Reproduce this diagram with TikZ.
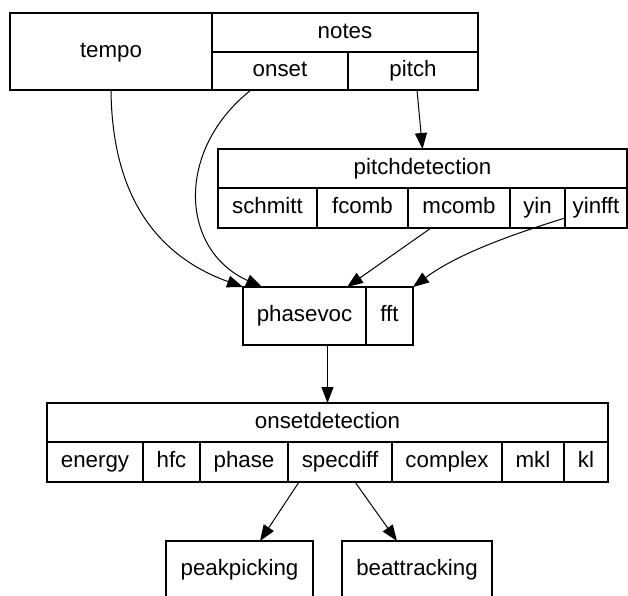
\documentclass[tikz,border=0pt]{standalone}
\usepackage{fontspec}
\setmainfont{Liberation Sans}
\usetikzlibrary{arrows.meta}
\begin{document}
\begin{tikzpicture}[x=1pt,y=-1pt,
  cell/.style={draw=black, line width=1.2pt, inner sep=0pt, outer sep=0pt, text height=15.5pt, text depth=4.5pt, font=\fontsize{22.3pt}{26pt}\selectfont},
  edge/.style={draw=black, line width=1pt, -{Triangle[length=16pt,width=12pt]}}]
\useasboundingbox (0,0) rectangle (628,595);
% top record
\node[cell, minimum width=202pt, minimum height=77pt] (tempo) at (111,51.5) {tempo};
\node[cell, minimum width=266pt, minimum height=39pt] (notes) at (345,32.5) {notes};
\node[cell, minimum width=136pt, minimum height=38pt] (onset) at (280,71) {onset};
\node[cell, minimum width=130pt, minimum height=38pt] (pitch) at (413,71) {pitch};
% pitchdetection
\node[cell, minimum width=409pt, minimum height=39pt] (pitchdetection) at (422.5,168.5) {pitchdetection};
\node[cell, minimum width=99pt, minimum height=40pt] (schmitt) at (267.5,208) {schmitt};
\node[cell, minimum width=91pt, minimum height=40pt] (fcomb) at (362.5,208) {fcomb};
\node[cell, minimum width=102pt, minimum height=40pt] (mcomb) at (459,208) {mcomb};
\node[cell, minimum width=55pt, minimum height=40pt] (yin) at (537.5,208) {yin};
\node[cell, minimum width=62pt, minimum height=40pt] (yinfft) at (596,208) {yinfft};
% phasevoc
\node[cell, minimum width=123pt, minimum height=58pt] (phasevoc) at (304.5,316) {phasevoc};
\node[cell, minimum width=47pt, minimum height=58pt] (fft) at (389.5,316) {fft};
% onsetdetection
\node[cell, minimum width=561pt, minimum height=39pt] (onsetdetection) at (327.5,422.5) {onsetdetection};
\node[cell, minimum width=96pt, minimum height=40pt] (energy) at (95,462) {energy};
\node[cell, minimum width=57pt, minimum height=40pt] (hfc) at (171.5,462) {hfc};
\node[cell, minimum width=88pt, minimum height=40pt] (phase) at (244,462) {phase};
\node[cell, minimum width=104pt, minimum height=40pt] (specdiff) at (340,462) {specdiff};
\node[cell, minimum width=110pt, minimum height=40pt] (complex) at (447,462) {complex};
\node[cell, minimum width=62pt, minimum height=40pt] (mkl) at (533,462) {mkl};
\node[cell, minimum width=44pt, minimum height=40pt] (kl) at (586,462) {kl};
% bottom
\node[cell, minimum width=147pt, minimum height=58pt] (peakpicking) at (239.5,570) {peakpicking};
\node[cell, minimum width=150pt, minimum height=58pt] (beattracking) at (417,570) {beattracking};
% edges
\draw[edge] (tempo.south) .. controls +(1,110) and +(-83,-30) .. (phasevoc.north west);
\draw[edge] ([xshift=-29pt]onset.south) .. controls +(-76,60) and +(-82,-37) .. ([xshift=-42.5pt]phasevoc.north);
\draw[edge] ([xshift=4pt]pitch.south) -- (pitchdetection.north);
\draw[edge] ([xshift=-28pt]mcomb.south) -- ([xshift=42.5pt]phasevoc.north);
\draw[edge] ([yshift=-10pt]yinfft.west) .. controls +(-45,14) and +(47,-35) .. (fft.north east);
\draw[edge] ([xshift=23pt]phasevoc.south) -- (onsetdetection.north);
\draw[edge] ([xshift=-41pt]specdiff.south) -- ([xshift=20.5pt]peakpicking.north);
\draw[edge] ([xshift=15pt]specdiff.south) -- ([xshift=-20pt]beattracking.north);
\end{tikzpicture}
\end{document}
